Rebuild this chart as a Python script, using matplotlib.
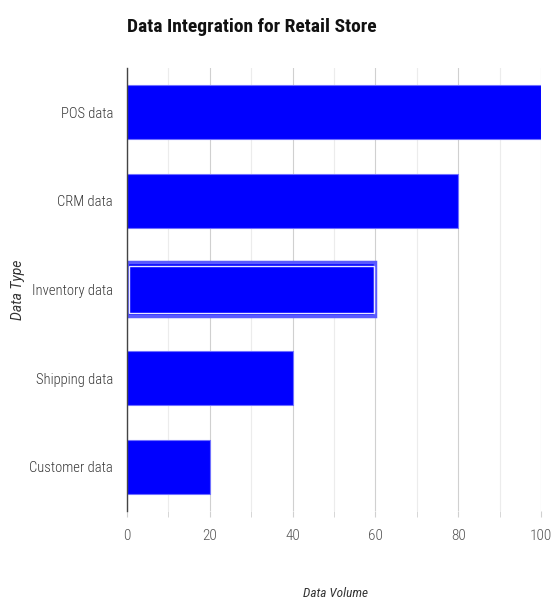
import matplotlib
matplotlib.use("Agg")
import matplotlib.pyplot as plt
from matplotlib.ticker import MultipleLocator

categories = ["POS data", "CRM data", "Inventory data", "Shipping data", "Customer data"]
values = [100, 80, 60, 40, 20]
highlight = "Inventory data"

COND = ["Roboto Condensed", "Roboto", "DejaVu Sans"]

fig = plt.figure(figsize=(5.51, 6.01), dpi=100)
ax = fig.add_axes([0.2305, 0.1498, 0.7514, 0.7371])

ypos = list(range(len(categories)))[::-1]
ax.barh(ypos, values, height=0.61, color="#0000ff", edgecolor="#7070ff", linewidth=0.8, zorder=3)
for c, v, y in zip(categories, values, ypos):
    if c == highlight:
        ax.barh([y], [v], height=0.61, color="#0000ff", edgecolor="#5a5aff", linewidth=2.5, zorder=4)
        ax.barh([y], [v - 0.8], left=0.4, height=0.52, color="none", edgecolor="#e8e8ff", linewidth=1.0, zorder=5)

ax.set_xlim(0, 100)
ax.set_ylim(-0.5, len(categories) - 0.5)
ax.set_yticks(ypos)
ax.set_yticklabels(categories)
ax.xaxis.set_major_locator(MultipleLocator(20))
ax.xaxis.set_minor_locator(MultipleLocator(10))
ax.grid(axis="x", which="major", color="#d0d0d0", linewidth=0.8, zorder=0)
ax.grid(axis="x", which="minor", color="#ececec", linewidth=0.8, zorder=0)
ax.tick_params(axis="x", which="both", length=4, color="#d0d0d0", labelsize=11, labelcolor="#555555", pad=9)
ax.tick_params(axis="y", length=0, labelsize=10.5, labelcolor="#383838", pad=10)
for lab in ax.get_xticklabels():
    lab.set_fontfamily(COND)
    lab.set_fontweight(300)
for lab in ax.get_yticklabels():
    lab.set_fontfamily(COND)
    lab.set_fontweight(300)
for s in ["top", "right", "bottom"]:
    ax.spines[s].set_visible(False)
ax.spines["left"].set_color("#444444")
ax.spines["left"].set_linewidth(1.0)
ax.spines["left"].set_zorder(6)

fig.text(0.2305, 0.955, "Data Integration for Retail Store", fontsize=14, fontweight="bold",
         fontfamily=COND, color="#111111", ha="left", va="center")
fig.text(0.033, 0.517, "Data Type", rotation=90, fontsize=10, fontstyle="italic",
         fontfamily="Roboto", color="#333333", ha="center", va="center")
fig.text(0.608, 0.012, "Data Volume", fontsize=9.5, fontstyle="italic",
         fontfamily=COND, color="#333333", ha="center", va="center")

fig.savefig("out.png", dpi=100)
